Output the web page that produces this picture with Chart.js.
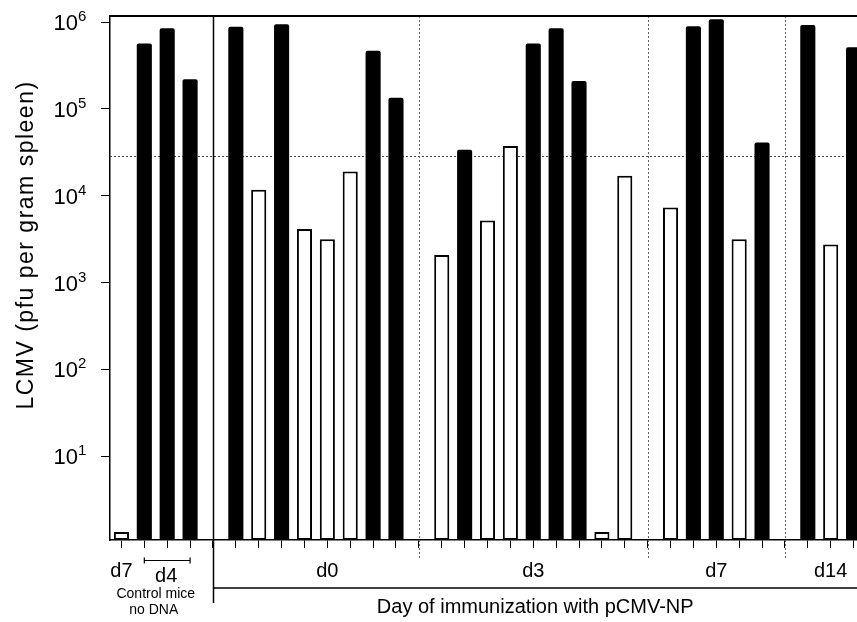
<!DOCTYPE html>
<html><head><meta charset="utf-8">
<script src="https://cdn.jsdelivr.net/npm/chart.js@4/dist/chart.umd.min.js"></script>
<style>
html,body{margin:0;padding:0;background:#fff;overflow:hidden;width:857px;height:622px}
#wrap{position:relative;width:865px;height:622px}
</style></head><body>
<div id="wrap"><canvas id="c" width="865" height="622"></canvas></div>
<script>
// Slots along the x axis (one per mouse; '|' = group divider)
const categories = [
  'ctl-d7-1','ctl-d4-1','ctl-d4-2','ctl-d4-3','|',
  'd0-1','d0-2','d0-3','d0-4','d0-5','d0-6','d0-7','d0-8','|',
  'd3-1','d3-2','d3-3','d3-4','d3-5','d3-6','d3-7','d3-8','d3-9','|',
  'd7-1','d7-2','d7-3','d7-4','d7-5','|',
  'd14-1','d14-2','d14-3'
];
// x tick labels per slot
const xTickLabels = [
  'd7','','','','',
  '','','','','d0','','','','',
  '','','','','d3','','','','','',
  '','','d7','','','',
  '','d14',''
];
// Solid (black) bars: pfu per gram spleen
const solidValues = [
  null,5.7e5,8.5e5,2.2e5,null,
  8.9e5,null,9.5e5,null,null,null,4.7e5,1.35e5,null,
  null,3.4e4,null,null,5.7e5,8.5e5,2.1e5,null,null,null,
  null,9.0e5,1.08e6,null,4.1e4,null,
  9.3e5,null,5.15e5
];
// Open (white) bars: pfu per gram spleen
const openValues = [
  1.33,null,null,null,null,
  null,1.17e4,null,4.15e3,3.15e3,1.9e4,null,null,null,
  2.08e3,null,5.2e3,3.75e4,null,null,null,1.33,1.7e4,null,
  7.3e3,null,null,3.15e3,null,null,
  null,2.75e3,null
];
const thresholdValue = 2.9e4;
const yTickValues = [1e1,1e2,1e3,1e4,1e5,1e6];
const yTickBase = ['10','10','10','10','10','10'];
const yTickExponents = ['1','2','3','4','5','6'];
const controlDivider = 4;
const groupDividers = [13, 23, 29];
const d4Span = [1, 3];
const yTitle = 'LCMV (pfu per gram spleen)';
const xTitle = 'Day of immunization with pCMV-NP';
const controlLines = ['Control mice', 'no DNA'];
const d4Label = 'd4';

const FONT = "'Liberation Sans', Arial, Helvetica, sans-serif";

const decor = {
  id: 'decor',
  beforeDatasetsDraw(chart) {
    const {ctx, chartArea: ca, scales: {x, y}} = chart;
    ctx.save();
    const ty = Math.round(y.getPixelForValue(thresholdValue)) + 0.5;
    ctx.strokeStyle = '#444';
    ctx.lineWidth = 1;
    ctx.setLineDash([2, 2]);
    ctx.beginPath(); ctx.moveTo(ca.left, ty); ctx.lineTo(ca.right, ty); ctx.stroke();
    ctx.strokeStyle = '#666';
    groupDividers.forEach(i => {
      const px = Math.round(x.getPixelForValue(i)) + 0.5;
      ctx.beginPath(); ctx.moveTo(px, ca.top); ctx.lineTo(px, ca.bottom + 18); ctx.stroke();
    });
    ctx.restore();
  },
  afterDraw(chart) {
    const {ctx, chartArea: ca, scales: {x, y}} = chart;
    ctx.save();
    ctx.strokeStyle = '#000';
    ctx.fillStyle = '#000';
    // top frame line
    ctx.lineWidth = 2;
    ctx.beginPath(); ctx.moveTo(ca.left, ca.top); ctx.lineTo(ca.right, ca.top); ctx.stroke();
    // control divider (solid)
    const cx = Math.round(x.getPixelForValue(controlDivider)) + 0.5;
    ctx.lineWidth = 1.5;
    ctx.beginPath(); ctx.moveTo(cx, ca.top); ctx.lineTo(cx, ca.bottom + 63); ctx.stroke();
    // immunization bracket line
    const by = ca.bottom + 48;
    ctx.beginPath(); ctx.moveTo(cx, by); ctx.lineTo(ca.right, by); ctx.stroke();
    // d4 bracket
    const x1 = x.getPixelForValue(d4Span[0]), x2 = x.getPixelForValue(d4Span[1]);
    const bky = ca.bottom + 20.5;
    ctx.lineWidth = 1.2;
    ctx.beginPath();
    ctx.moveTo(x1, bky); ctx.lineTo(x2, bky);
    ctx.moveTo(x1, bky - 3); ctx.lineTo(x1, bky + 3);
    ctx.moveTo(x2, bky - 3); ctx.lineTo(x2, bky + 3);
    ctx.stroke();
    ctx.textAlign = 'center';
    ctx.textBaseline = 'middle';
    ctx.font = '20px ' + FONT;
    ctx.fillText(d4Label, (x1 + x2) / 2 - 1, ca.bottom + 36);
    ctx.font = '14px ' + FONT;
    const ccx = (x.getPixelForValue(0) + x.getPixelForValue(3)) / 2;
    ctx.fillText(controlLines[0], ccx, ca.bottom + 54);
    ctx.fillText(controlLines[1], ccx - 2, ca.bottom + 70);
    // x title
    ctx.font = '20px ' + FONT;
    ctx.fillText(xTitle, (cx + 857) / 2, ca.bottom + 67);
    // y tick exponents
    ctx.textAlign = 'left';
    ctx.font = '15px ' + FONT;
    yTickValues.forEach((v, i) => {
      const py = y.getPixelForValue(v);
      ctx.fillText(yTickExponents[i], 78, py - 5);
    });
    // y title
    ctx.translate(27, 245);
    ctx.rotate(-Math.PI / 2);
    ctx.textAlign = 'center';
    ctx.font = '23px ' + FONT;
    try { ctx.letterSpacing = '1.5px'; } catch (e) {}
    ctx.fillText(yTitle, 0, 0);
    ctx.restore();
  }
};

new Chart(document.getElementById('c'), {
  type: 'bar',
  data: {
    labels: categories,
    datasets: [
      {data: solidValues, backgroundColor: '#000', borderWidth: 0, grouped: false,
       barPercentage: 0.66, categoryPercentage: 1, borderRadius: {topLeft: 2, topRight: 2}},
      {data: openValues, backgroundColor: '#fff', borderColor: '#000', borderWidth: 2,
       borderSkipped: false, grouped: false, barPercentage: 0.66, categoryPercentage: 1}
    ]
  },
  options: {
    responsive: false,
    animation: false,
    devicePixelRatio: 1,
    layout: {padding: {top: 16, left: 0, right: 0, bottom: 0}},
    plugins: {legend: {display: false}, tooltip: {enabled: false}},
    scales: {
      x: {
        type: 'category',
        offset: true,
        grid: {display: true, drawOnChartArea: false, drawTicks: true, tickLength: 8,
               color: '#000', lineWidth: 1, offset: false},
        border: {display: true, color: '#000', width: 1.5},
        ticks: {autoSkip: false, maxRotation: 0, minRotation: 0, padding: 11, color: '#000',
                font: {family: FONT, size: 20},
                callback: (v, i) => xTickLabels[i]},
        afterFit: s => { s.height = 82; s.paddingLeft = 0; s.paddingRight = 0; }
      },
      y: {
        type: 'logarithmic',
        min: 1.077,
        max: 1.18e6,
        afterBuildTicks: s => { s.ticks = yTickValues.map(v => ({value: v})); },
        grid: {display: true, drawOnChartArea: false, drawTicks: true, tickLength: 9, color: '#000', lineWidth: 1},
        border: {display: true, color: '#000', width: 1.5},
        ticks: {padding: 23, labelOffset: 2, color: '#000', font: {family: FONT, size: 22},
                callback: (v, i) => yTickBase[i]},
        afterFit: s => { s.width = 110; s.paddingTop = 0; s.paddingBottom = 0; }
      }
    }
  },
  plugins: [decor]
});
</script>
</body></html>
